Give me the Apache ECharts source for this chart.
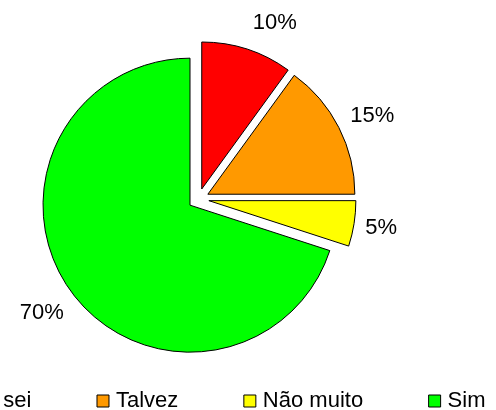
<!DOCTYPE html>
<html>
<head>
<meta charset="utf-8">
<script src="https://cdn.jsdelivr.net/npm/echarts@6/dist/echarts.min.js"></script>
<style>
html,body{margin:0;padding:0;background:#fff;}
#c{width:496px;height:410px;}
</style>
</head>
<body>
<div id="c"></div>
<script>
const categories = ['Não sei', 'Talvez', 'Não muito', 'Sim'];
const values = [10, 15, 5, 70];
const colors = ['#FF0000', '#FF9900', '#FFFF00', '#00FF00'];

// label placement tweaks (style only)
const labelTweak = [
  { length: 27.6, length2: -3 },
  { length: 25.2, length2: -11 },
  { length: 28.6, length2: -17 },
  { length: 36.3, length2: -22 }
];

const chart = echarts.init(document.getElementById('c'), null, { renderer: 'canvas' });
const font = 'Liberation Sans, Arial, sans-serif';

const data = categories.map((name, i) => ({
  name: name,
  value: values[i],
  selected: true,
  itemStyle: { color: colors[i] },
  labelLine: { show: false, length: labelTweak[i].length, length2: labelTweak[i].length2 }
}));

chart.setOption({
  animation: false,
  backgroundColor: '#ffffff',
  legend: {
    data: categories,
    left: -62.6,
    top: 390,
    orient: 'horizontal',
    padding: 0,
    itemGap: 65,
    itemWidth: 12,
    itemHeight: 12,
    icon: 'rect',
    itemStyle: { borderColor: '#000', borderWidth: 1 },
    textStyle: { fontFamily: font, fontSize: 22, color: '#000', padding: [0, 0, 0, 2] },
    selectedMode: false
  },
  series: [{
    type: 'pie',
    center: [198.5, 199],
    radius: 147,
    startAngle: 90,
    clockwise: true,
    selectedMode: 'multiple',
    selectedOffset: 10.5,
    avoidLabelOverlap: false,
    silent: true,
    itemStyle: { borderColor: '#000', borderWidth: 1 },
    select: { itemStyle: { borderColor: '#000', borderWidth: 1 } },
    emphasis: { disabled: true, scale: false },
    label: {
      show: true,
      position: 'outside',
      formatter: '{d}%',
      fontFamily: font,
      fontSize: 22,
      color: '#000',
      distanceToLabelLine: 0
    },
    labelLine: { show: false },
    data: data
  }]
});
</script>
</body>
</html>
